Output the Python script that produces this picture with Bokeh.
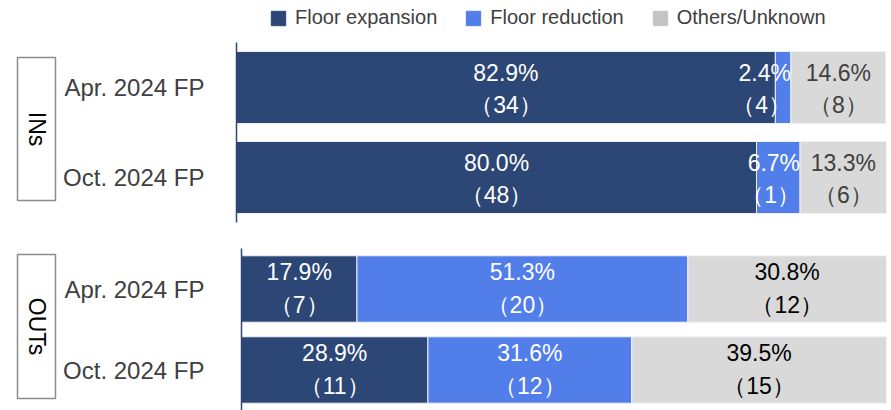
import math
from bokeh.plotting import figure
from bokeh.models import Range1d, FactorRange, Legend, LegendItem, Label, ColumnDataSource
from bokeh.layouts import column, row
from bokeh.embed import file_html
from bokeh.resources import INLINE
from bokeh.core.properties import value

# ---------------- data ----------------
categories = ["Apr. 2024 FP", "Oct. 2024 FP"]
series_names = ["Floor expansion", "Floor reduction", "Others/Unknown"]
group_labels = ["INs", "OUTs"]

ins_expansion_pct = [82.9, 80.0]
ins_reduction_pct = [2.4, 6.7]
ins_others_pct = [14.6, 13.3]
ins_expansion_n = [34, 48]
ins_reduction_n = [4, 1]
ins_others_n = [8, 6]

outs_expansion_pct = [17.9, 28.9]
outs_reduction_pct = [51.3, 31.6]
outs_others_pct = [30.8, 39.5]
outs_expansion_n = [7, 11]
outs_reduction_n = [20, 12]
outs_others_n = [12, 15]

# ---------------- style ----------------
COLORS = ["#2c4676", "#517ee8", "#d9d9d9"]
LEGEND_COLORS = ["#2c4676", "#517ee8", "#c4c4c4"]
FONT = "Liberation Sans"
TICK_COLOR = "#404040"


def bare(p):
    p.frame_align = False
    p.xgrid.visible = False
    p.ygrid.visible = False
    return p


def make_panel(pcts, counts, width, height, b_left, b_right, b_top, b_bottom,
               other_text_color, bar_height, off_pct, off_cnt, standoff):
    p = figure(width=width, height=height,
               y_range=FactorRange(factors=list(reversed(categories))),
               x_range=Range1d(0, 100),
               x_axis_location=None,
               toolbar_location=None, output_backend="svg",
               min_border_left=b_left, min_border_right=b_right,
               min_border_top=b_top, min_border_bottom=b_bottom)
    bare(p)
    src = {"cat": categories}
    keys = []
    for i, vals in enumerate(pcts):
        k = f"s{i}"
        src[k] = vals
        keys.append(k)
    p.hbar_stack(keys, y="cat", height=bar_height, source=ColumnDataSource(src),
                 color=COLORS, line_color="#eef1f6", line_width=1)

    groups = {"center": {"x": [], "y": [], "pct": [], "cnt": [], "col": []},
              "right": {"x": [], "y": [], "pct": [], "cnt": [], "col": []}}
    for j, cat in enumerate(categories):
        left = 0.0
        for i in range(len(pcts)):
            v = pcts[i][j]
            right = left + v
            if v < 10:
                g = groups["right"]
                g["x"].append(right)
            else:
                g = groups["center"]
                g["x"].append((left + right) / 2)
            g["y"].append(cat)
            g["pct"].append(f"{v:.1f}%")
            g["cnt"].append(f"（{counts[i][j]}）")
            g["col"].append("white" if i < 2 else other_text_color)
            left = right
    for align, g in groups.items():
        if not g["x"]:
            continue
        s = ColumnDataSource(g)
        p.text(x="x", y="y", text="pct", source=s, text_align=align, text_baseline="middle",
               text_color="col", text_font=value(FONT), text_font_size="23px", y_offset=off_pct)
        p.text(x="x", y="y", text="cnt", source=s, text_align=align, text_baseline="middle",
               text_color="col", text_font=value(FONT), text_font_size="23px", y_offset=off_cnt)

    p.outline_line_color = None
    ax = p.yaxis[0]
    ax.axis_line_color = COLORS[0]
    ax.axis_line_width = 1.5
    ax.major_tick_line_color = None
    ax.minor_tick_line_color = None
    ax.major_label_text_font = FONT
    ax.major_label_text_font_size = "24px"
    ax.major_label_text_color = TICK_COLOR
    ax.major_label_standoff = standoff
    return p


def make_box(text, height, b_top, frame_h):
    b = figure(width=60, height=height, x_range=Range1d(0, 1), y_range=Range1d(0, 1),
               x_axis_location=None, y_axis_location=None,
               toolbar_location=None, output_backend="svg",
               min_border_left=17, min_border_right=5,
               min_border_top=b_top, min_border_bottom=height - b_top - frame_h)
    bare(b)
    b.outline_line_color = "#8c8c8c"
    b.outline_line_width = 1.5
    b.add_layout(Label(x=0.5, y=0.5, text=text, angle=-math.pi / 2,
                       text_align="center", text_baseline="middle",
                       text_font=FONT, text_font_size="23px", text_color="black"))
    return b


def make_legend_fig(width, height):
    lf = figure(width=width, height=height, x_range=Range1d(0, 1), y_range=Range1d(0, 1),
                x_axis_location=None, y_axis_location=None,
                toolbar_location=None, output_backend="svg",
                min_border_left=0, min_border_right=0, min_border_top=0, min_border_bottom=0)
    bare(lf)
    lf.outline_line_color = None
    # legend-only renderers: one entry each, placed outside the visible range
    rs = [lf.hbar(y=[-5], left=[0], right=[0], height=0.1, color=c) for c in LEGEND_COLORS]
    lg = Legend(items=[LegendItem(label=n, renderers=[r]) for n, r in zip(series_names, rs)],
                orientation="horizontal", location=(269, 13))
    lg.glyph_width = 18
    lg.glyph_height = 18
    lg.label_standoff = 8
    lg.spacing = 27
    lg.padding = 4
    lg.margin = 0
    lg.border_line_color = None
    lg.background_fill_alpha = 0
    lg.label_text_font = FONT
    lg.label_text_font_size = "20px"
    lg.label_text_color = TICK_COLOR
    lf.add_layout(lg, "center")
    return lf


legend_fig = make_legend_fig(891, 42)
top = make_panel([ins_expansion_pct, ins_reduction_pct, ins_others_pct],
                 [ins_expansion_n, ins_reduction_n, ins_others_n],
                 width=831, height=193, b_left=176, b_right=5, b_top=0, b_bottom=13,
                 other_text_color="#404040", bar_height=0.8, off_pct=-15, off_cnt=17, standoff=26)
bottom = make_panel([outs_expansion_pct, outs_reduction_pct, outs_others_pct],
                    [outs_expansion_n, outs_reduction_n, outs_others_n],
                    width=831, height=175, b_left=181, b_right=5, b_top=13, b_bottom=0,
                    other_text_color="black", bar_height=0.82, off_pct=-17, off_cnt=16, standoff=31)

box1 = make_box(group_labels[0], 193, 15, 143)
box2 = make_box(group_labels[1], 175, 19, 144)

layout = column(legend_fig, row(box1, top), row(box2, bottom))

with open("out.html", "w") as f:
    f.write(file_html(layout, INLINE))
